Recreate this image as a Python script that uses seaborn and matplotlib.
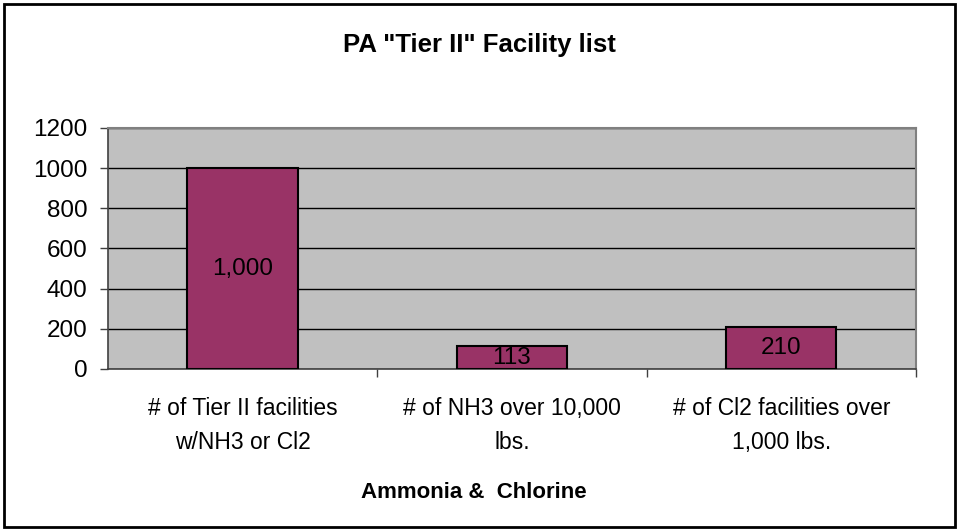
import matplotlib
matplotlib.use("Agg")
import matplotlib.pyplot as plt
import seaborn as sns
import pandas as pd
from matplotlib.patches import Rectangle

categories = ["# of Tier II facilities\nw/NH3 or Cl2",
              "# of NH3 over 10,000\nlbs.",
              "# of Cl2 facilities over\n1,000 lbs."]
counts = [1000, 113, 210]
y_ticks = [0, 200, 400, 600, 800, 1000, 1200]

df = pd.DataFrame({"category": categories, "count": counts})

sns.set_theme(style="white")
plt.rcParams["font.family"] = ["Liberation Sans", "DejaVu Sans"]
plt.rcParams.update({"text.color": "black", "axes.labelcolor": "black",
                     "xtick.color": "black", "ytick.color": "black"})

fig = plt.figure(figsize=(9.59, 5.31), dpi=100)
ax = fig.add_axes([0.1126, 0.3051, 0.8425, 0.4539])
ax.set_facecolor("#C0C0C0")

sns.barplot(data=df, x="category", y="count", color="#993366", saturation=1,
            width=0.41, edgecolor="black", linewidth=1.5, ax=ax, zorder=3)

ax.set_ylim(0, 1200)
ax.set_yticks(y_ticks)
ax.yaxis.grid(True, color="black", linewidth=1.0, zorder=0)
ax.set_axisbelow(True)
ax.set_xlim(-0.5, len(categories) - 0.5)

# ticks on the category boundaries, labels in the middle
ax.set_xticks([i + 0.5 for i in range(len(categories))])
ax.set_xticklabels([])
ax.set_xticks(range(len(categories)), minor=True)
ax.set_xticklabels(categories, minor=True, fontsize=16.5, linespacing=1.65)
ax.tick_params(axis="x", which="major", length=6, width=1, color="#404040", direction="out", bottom=True)
ax.tick_params(axis="x", which="minor", length=0, pad=20)
ax.tick_params(axis="y", length=6, width=1, color="#404040", direction="out", left=True, labelsize=17.5, pad=9)

for side in ["left", "bottom"]:
    ax.spines[side].set_color("#404040")
    ax.spines[side].set_linewidth(1.2)
for side in ["top", "right"]:
    ax.spines[side].set_color("#808080")
    ax.spines[side].set_linewidth(1.5)

for c in ax.containers:
    ax.bar_label(c, labels=[f"{v:,.0f}" for v in counts], label_type="center", fontsize=17.5)

ax.set_xlabel("")
ax.set_ylabel("")
fig.text(474 / 959, 1 - 492 / 531, "Ammonia &  Chlorine", ha="center", va="center",
         fontsize=16, fontweight="bold")
fig.text(0.5, 1 - 45 / 531, 'PA "Tier II" Facility list', ha="center", va="center",
         fontsize=18.5, fontweight="bold")

fig.patches.append(Rectangle((4 / 959, 4 / 531), 951 / 959, 523 / 531, transform=fig.transFigure,
                             fill=False, edgecolor="black", linewidth=2))

fig.savefig("out.png", dpi=100)
